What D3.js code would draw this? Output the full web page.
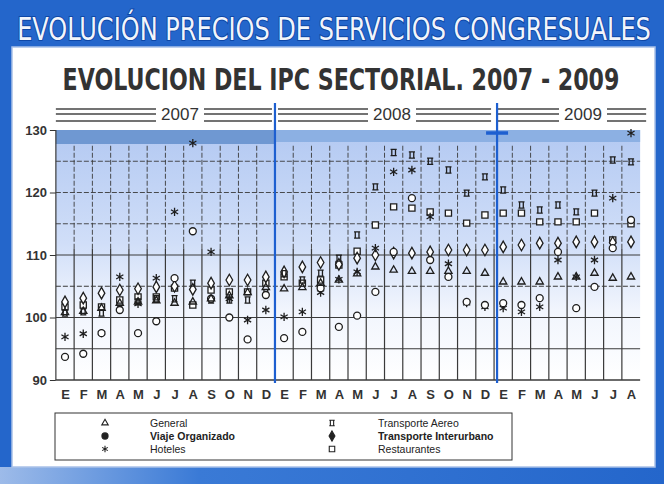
<!DOCTYPE html>
<html>
<head>
<meta charset="utf-8">
<script src="https://cdn.jsdelivr.net/npm/d3@7"></script>
<style>
  body { margin: 0; background: #fff; }
  svg { display: block; }
</style>
</head>
<body>
<svg id="chart"></svg>
<script>
// Month labels (E = enero ... D = diciembre), Jan 2007 - Aug 2009
const months = ["E","F","M","A","M","J","J","A","S","O","N","D",
                "E","F","M","A","M","J","J","A","S","O","N","D",
                "E","F","M","A","M","J","J","A"];
const years = ["2007", "2008", "2009"];
const yTicks = [90, 100, 110, 120, 130];

// Series values
const general      = [100.8,101.0,101.5,102.3,102.5,102.7,102.3,102.5,103.0,103.5,104.0,104.8,
                      104.6,104.8,105.5,106.0,107.0,108.1,107.6,107.4,107.4,107.4,107.4,107.1,
                      105.7,105.7,105.7,106.5,106.5,107.1,106.3,106.5];
const viaje        = [93.7,94.2,97.5,101.2,97.5,99.4,106.3,113.8,103.0,100.0,96.5,103.6,
                      96.7,97.7,104.7,98.5,100.3,104.1,110.5,119.1,109.2,106.5,102.5,102.0,
                      102.3,102.0,103.1,110.5,101.5,104.9,111.1,115.6];
const hoteles      = [96.9,97.4,97.5,106.5,102.2,106.3,116.9,127.9,110.5,103.0,99.6,101.2,
                      100.1,100.9,104.0,106.1,107.3,111.1,123.3,123.6,116.1,108.6,102.3,101.7,
                      101.5,100.9,101.7,109.2,106.5,109.2,119.1,129.5];
const aereo        = [100.7,100.9,100.7,101.5,102.5,103.0,103.0,105.5,102.8,102.8,102.8,104.0,
                      107.0,106.0,107.1,109.5,113.2,120.9,126.4,126.0,125.0,123.6,119.9,122.5,
                      120.4,118.0,117.2,118.0,116.9,119.9,125.2,124.9];
const interurbano  = [102.5,103.1,103.9,104.4,104.6,104.9,105.0,104.5,105.5,106.0,106.0,106.5,
                      107.3,108.1,108.8,108.5,109.5,110.0,110.3,110.3,110.5,110.8,110.8,110.8,
                      111.3,111.6,111.9,111.9,112.1,112.1,112.0,112.1];
const restaurantes = [101.7,102.0,101.7,102.8,103.3,103.3,104.7,102.0,104.4,104.1,104.1,105.5,
                      106.5,105.5,106.0,108.4,110.6,114.8,117.7,117.5,116.9,116.7,115.1,116.4,
                      116.7,116.7,115.3,115.3,115.3,116.7,112.4,115.0];

const W = 664, H = 484;
const svg = d3.select("#chart").attr("width", W).attr("height", H);
const narrow = "'Liberation Sans Narrow', 'Arial Narrow', 'DejaVu Sans Condensed', sans-serif";
const sans = "'Liberation Sans', Arial, sans-serif";

// custom "bowtie" marker used for Transporte Aereo
const bowtie = {
  draw(ctx, size) {
    const r = Math.sqrt(size) / 2;
    ctx.moveTo(-r, -r); ctx.lineTo(r, -r);
    ctx.moveTo(-r, r); ctx.lineTo(r, r);
    ctx.moveTo(-r * 0.6, -r); ctx.lineTo(-r * 0.6, r);
    ctx.moveTo(r * 0.6, -r); ctx.lineTo(r * 0.6, r);
  }
};

const series = [
  {name: "General",                values: general,      symbol: d3.symbolTriangle2, fill: "none", bold: false},
  {name: "Viaje Organizado",       values: viaje,        symbol: d3.symbolCircle,    fill: "#fff", bold: true},
  {name: "Hoteles",                values: hoteles,      symbol: d3.symbolAsterisk,  fill: "none", bold: false},
  {name: "Transporte Aereo",       values: aereo,        symbol: bowtie,             fill: "none", bold: false},
  {name: "Transporte Interurbano", values: interurbano,  symbol: d3.symbolDiamond,   fill: "#fff", bold: true},
  {name: "Restaurantes",           values: restaurantes, symbol: d3.symbolSquare,    fill: "#fff", bold: false}
];

// fit a text to a given width by scaling it horizontally
function fitText(sel, cx, cy, width) {
  const len = sel.node().getComputedTextLength();
  sel.attr("x", 0).attr("y", 0)
    .attr("transform", `translate(${cx},${cy}) scale(${width / len},1)`);
}

// ---- frame ----
const defs = svg.append("defs");
const gBot = defs.append("linearGradient").attr("id", "botGrad");
gBot.append("stop").attr("offset", 0).attr("stop-color", "#9dbbe9");
gBot.append("stop").attr("offset", 0.3).attr("stop-color", "#3a7ad6");
gBot.append("stop").attr("offset", 1).attr("stop-color", "#2466cb");

svg.append("rect").attr("width", W).attr("height", H).attr("fill", "#2466cb");
svg.append("rect").attr("x", 0).attr("y", 467).attr("width", W).attr("height", 17).attr("fill", "url(#botGrad)");
svg.append("rect")
  .attr("x", 12).attr("y", 47).attr("width", 643).attr("height", 420)
  .attr("fill", "#fff").attr("stroke", "#a9c1e8").attr("stroke-width", 1.5);

const banner = svg.append("text")
  .attr("text-anchor", "middle")
  .style("font-family", narrow).style("font-size", "32px")
  .attr("fill", "#f2f5fb").attr("stroke", "#0e47a6").attr("stroke-width", 2)
  .style("paint-order", "stroke")
  .text("EVOLUCIÓN PRECIOS DE SERVICIOS CONGRESUALES");
fitText(banner, 334, 40, 634);

const title = svg.append("text")
  .attr("text-anchor", "middle")
  .style("font-family", narrow).style("font-size", "31px").style("font-weight", "bold")
  .attr("fill", "#333")
  .text("EVOLUCION DEL IPC SECTORIAL. 2007 - 2009");
fitText(title, 341, 90, 557);

// ---- scales ----
const x = d3.scalePoint().domain(d3.range(months.length)).range([65, 631]);
const step = x.step();
const left = x(0) - step / 2, right = x(months.length - 1) + step / 2;
const y = d3.scaleLinear().domain([90, 130]).range([380, 130]);

// ---- plot background ----
const gBg = defs.append("linearGradient").attr("id", "bgGrad").attr("x1", 0).attr("x2", 0).attr("y1", 0).attr("y2", 1);
gBg.append("stop").attr("offset", 0).attr("stop-color", "#b3c9f2");
gBg.append("stop").attr("offset", 0.45).attr("stop-color", "#d0def8");
gBg.append("stop").attr("offset", 0.72).attr("stop-color", "#f1f5fd");
gBg.append("stop").attr("offset", 1).attr("stop-color", "#ffffff");

svg.append("rect")
  .attr("x", left).attr("y", y(130)).attr("width", right - left).attr("height", y(90) - y(130))
  .attr("fill", "url(#bgGrad)");
// dark band at the top of the plot
const split = x(12) - step / 2;
svg.append("rect").attr("x", left).attr("y", y(130)).attr("width", split - left).attr("height", 14).attr("fill", "#6f98d2");
svg.append("rect").attr("x", split).attr("y", y(130)).attr("width", right - split).attr("height", 12).attr("fill", "#8cb0e3");

// ---- grid ----
const grid = svg.append("g").attr("stroke", "#3a3a3a").attr("fill", "none");
[95, 100, 105, 110, 115, 120, 125].forEach(v => {
  grid.append("line")
    .attr("x1", left).attr("x2", right).attr("y1", y(v)).attr("y2", y(v))
    .attr("stroke-width", v <= 110 ? 1.2 : 0.9)
    .attr("stroke-dasharray", v <= 110 && v !== 105 ? null : "5,2");
});
d3.range(months.length - 1).forEach(i => {
  const xv = x(i) + step / 2;
  grid.append("line").attr("x1", xv).attr("x2", xv).attr("y1", y(90)).attr("y2", y(111)).attr("stroke-width", 1.2);
  grid.append("line").attr("x1", xv).attr("x2", xv).attr("y1", y(111)).attr("y2", y(127.5))
    .attr("stroke-width", 0.9).attr("stroke-dasharray", "5,2");
});
grid.append("line").attr("x1", left).attr("x2", right).attr("y1", y(90)).attr("y2", y(90)).attr("stroke-width", 1.5);
grid.append("line").attr("x1", left).attr("x2", left).attr("y1", y(90)).attr("y2", y(130)).attr("stroke-width", 1.2);

// ---- year bands ----
const bands = years.map((yr, k) => {
  const a = k === 0 ? left : x(k * 12) - step / 2 + 3;
  const b = k === years.length - 1 ? right + 6 : x(k * 12 + 11) + step / 2 - 3;
  return {yr, a, b};
});
const yrTxtX = [180, 392, 583];
const gBand = svg.append("g");
bands.forEach((d, k) => {
  const c = yrTxtX[k], gap = 24;
  [109, 114, 121].forEach(ly => {
    gBand.append("line").attr("x1", d.a).attr("x2", c - gap).attr("y1", ly).attr("y2", ly)
      .attr("stroke", "#444").attr("stroke-width", 1.4);
    gBand.append("line").attr("x1", c + gap).attr("x2", d.b).attr("y1", ly).attr("y2", ly)
      .attr("stroke", "#444").attr("stroke-width", 1.4);
  });
  gBand.append("text").attr("x", c).attr("y", 120).attr("text-anchor", "middle")
    .style("font-family", sans).style("font-size", "17px").attr("fill", "#333").text(d.yr);
});

// blue separators between years
[12, 24].forEach((m, k) => {
  const xv = x(m) - step / 2 + (k === 1 ? 3 : 0);
  svg.append("line").attr("x1", xv).attr("x2", xv).attr("y1", 103).attr("y2", 383)
    .attr("stroke", "#1d5fd0").attr("stroke-width", 2.2);
  if (k === 1) {
    svg.append("line").attr("x1", xv - 11).attr("x2", xv + 11).attr("y1", 133).attr("y2", 133)
      .attr("stroke", "#1d5fd0").attr("stroke-width", 3.5);
  }
});

// ---- axes ----
const yAxis = svg.append("g").attr("transform", `translate(${left},0)`)
  .call(d3.axisLeft(y).tickValues(yTicks).tickSize(6).tickPadding(3));
yAxis.select(".domain").remove();
yAxis.selectAll("line").attr("stroke", "#333");
yAxis.selectAll("text").style("font-family", sans).style("font-size", "13px").style("font-weight", "bold").attr("fill", "#333");

const xAxis = svg.append("g").attr("transform", `translate(0,${y(90)})`)
  .call(d3.axisBottom(x).tickFormat(i => months[i]).tickSize(0).tickPadding(10));
xAxis.select(".domain").remove();
xAxis.selectAll("text").style("font-family", sans).style("font-size", "13px").style("font-weight", "bold").attr("fill", "#333");

// ---- markers ----
const gMarks = svg.append("g");
series.slice().reverse().forEach(s => {
  const sym = d3.symbol().type(s.symbol).size(s.symbol === d3.symbolAsterisk ? 48 : 38);
  gMarks.append("g").selectAll("path")
    .data(s.values)
    .join("path")
      .attr("transform", (v, i) => `translate(${x(i)},${y(v)})`)
      .attr("d", sym)
      .attr("fill", s.fill)
      .attr("stroke", "#1e1e1e")
      .attr("stroke-width", 1.3);
});

// ---- legend ----
const lg = svg.append("g");
lg.append("rect").attr("x", 55).attr("y", 413).attr("width", 457).attr("height", 47)
  .attr("fill", "#fff").attr("stroke", "#333").attr("stroke-width", 1);
const order = [0, 3, 1, 4, 2, 5];
order.forEach((si, k) => {
  const s = series[si];
  const col = k % 2, row = Math.floor(k / 2);
  const ly = 423 + row * 13;
  const sx = col === 0 ? 105 : 332, tx = col === 0 ? 150 : 378;
  lg.append("path")
    .attr("transform", `translate(${sx},${ly})`)
    .attr("d", d3.symbol().type(s.symbol).size(30))
    .attr("fill", s.bold ? "#222" : s.fill)
    .attr("stroke", "#222").attr("stroke-width", 1.1);
  lg.append("text").attr("x", tx).attr("y", ly + 4)
    .style("font-family", sans).style("font-size", "10.5px")
    .style("font-weight", s.bold ? "bold" : "normal")
    .attr("fill", "#222").text(s.name);
});
</script>
</body>
</html>
